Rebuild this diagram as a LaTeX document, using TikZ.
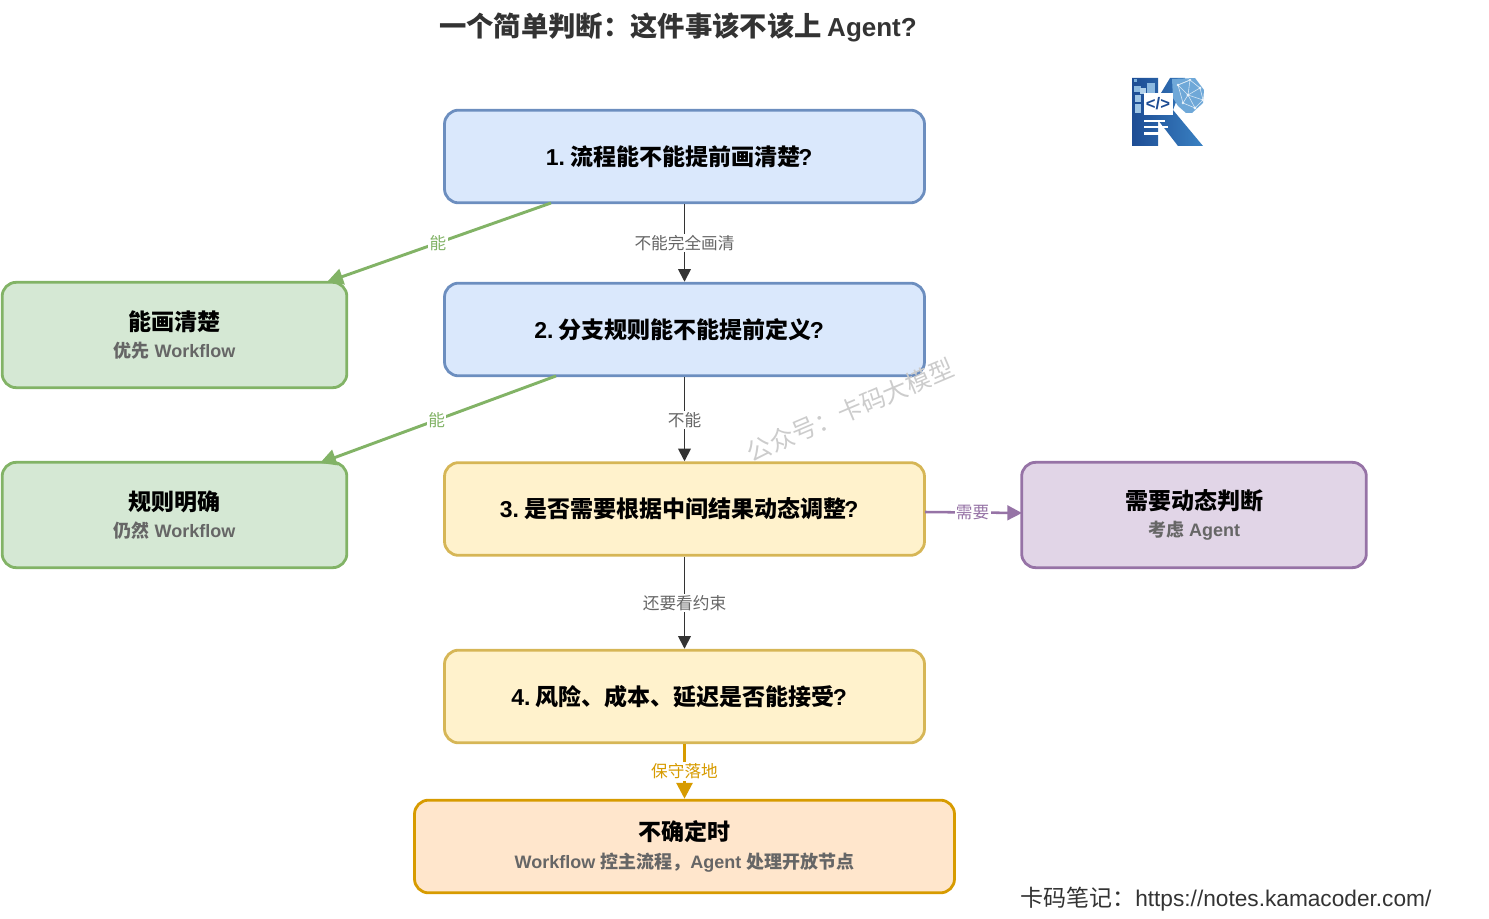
\documentclass[tikz,border=0pt]{standalone}
\usepackage{fontspec}
\setmainfont{Liberation Sans}
\newfontfamily\cj{Noto Sans CJK SC}
\usetikzlibrary{arrows.meta,positioning,calc}
\definecolor{bluef}{HTML}{DAE8FC}\definecolor{blued}{HTML}{6C8EBF}
\definecolor{greenf}{HTML}{D5E8D4}\definecolor{greend}{HTML}{82B366}
\definecolor{yellowf}{HTML}{FFF2CC}\definecolor{yellowd}{HTML}{D6B656}
\definecolor{purplef}{HTML}{E1D5E7}\definecolor{purpled}{HTML}{9673A6}
\definecolor{orangef}{HTML}{FFE6CC}\definecolor{oranged}{HTML}{D79B00}
\definecolor{edgegray}{HTML}{333333}\definecolor{subgray}{HTML}{666666}
\definecolor{logod}{HTML}{1D4C94}\definecolor{logol}{HTML}{3F8BCB}
\newcommand{\fwcolon}{\char"FF1A\relax}
\newcommand{\fwcomma}{\char"FF0C\relax}
\tikzset{
  boxbase/.style={draw,rounded corners=10.5pt,line width=2.1pt,inner sep=0pt,align=center,font=\fontsize{17.25}{24}\selectfont\bfseries},
  wide/.style={boxbase,minimum width=360pt,minimum height=69.5pt},
  side/.style={boxbase,minimum width=258.5pt,minimum height=79pt},
  bluebox/.style={wide,fill=bluef,draw=blued},
  yellowbox/.style={wide,fill=yellowf,draw=yellowd},
  greenbox/.style={side,fill=greenf,draw=greend},
  purplebox/.style={side,fill=purplef,draw=purpled},
  orangebox/.style={boxbase,fill=orangef,draw=oranged,minimum width=405pt,minimum height=69.5pt},
  flow/.style={draw=edgegray,line width=1.3pt,-{Triangle[length=9.5pt,width=9.5pt]}},
  yes/.style={draw=greend,line width=2.2pt,-{Triangle[length=12pt,width=12pt]}},
  need/.style={draw=purpled,line width=1.9pt,-{Triangle[length=11pt,width=11pt]}},
  keep/.style={draw=oranged,line width=2.2pt,-{Triangle[length=12pt,width=12pt]}},
  lab/.style={fill=white,inner sep=1pt,font=\fontsize{12.5}{14}\selectfont\cj},
}
\newcommand{\subl}[1]{\\[-3.5pt]{\fontsize{13.5}{18}\selectfont\color{subgray}#1}}
\newcommand{\stepline}[2]{#1\hspace{4pt}{\cj #2}\kern-1.5pt?\hspace*{8pt}}
\begin{document}
\begin{tikzpicture}[x=0.75pt,y=-0.75pt]
\useasboundingbox (0,0) rectangle (1489,919);
% title
\node[font=\fontsize{20.5}{24}\selectfont\bfseries,text=black!80] (title) at (678,27) {{\cj 一个简单判断\fwcolon 这件事该不该上}\hspace{4pt}{\fontsize{19.5}{24}\selectfont Agent?}};
% boxes
\node[bluebox] (b1) at (684.5,156.5) {\stepline{1.}{流程能不能提前画清楚}};
\node[bluebox] (b2) at (684.5,329.5) {\stepline{2.}{分支规则能不能提前定义}};
\node[yellowbox] (b3) at (684.5,509) {\stepline{3.}{是否需要根据中间结果动态调整}};
\node[yellowbox] (b4) at (684.5,696.5) {\stepline{4.}{风险、成本、延迟是否能接受}};
\node[orangebox] (b5) at (684.5,846.5) {{\cj 不确定时}\subl{Workflow {\cj 控主流程\fwcomma}Agent {\cj 处理开放节点}}};
\node[greenbox] (g1) at (174.5,335) {{\cj 能画清楚}\subl{{\cj 优先} Workflow}};
\node[greenbox] (g2) at (174.5,515) {{\cj 规则明确}\subl{{\cj 仍然} Workflow}};
\node[purplebox] (p1) at (1194,515) {{\cj 需要动态判断}\subl{{\cj 考虑} Agent}};
% connector ends on the box edges
\coordinate (g1from) at (551,203);
\coordinate (g1to) at (327,282);
\coordinate (g2from) at (556,376);
\coordinate (g2to) at (320,463);
\coordinate (p1from) at (925,512);
\coordinate (p1to) at (1022,513);
% connectors
\draw[flow] (b1.south) -- node[lab,text=subgray] (l1) {不能完全画清} (b2.north);
\draw[flow] (b2.south) -- node[lab,text=subgray,pos=0.51] (l2) {不能} (b3.north);
\draw[flow] (b3.south) -- node[lab,text=subgray,pos=0.505] (l3) {还要看约束} (b4.north);
\draw[keep] (b4.south) -- node[lab,text=oranged,pos=0.5] (l4) {保守落地} (b5.north);
\draw[yes] (g1from) -- node[lab,text=greend,pos=0.505] (l5) {能} (g1to);
\draw[yes] (g2from) -- node[lab,text=greend,pos=0.505] (l6) {能} (g2to);
\draw[need] (p1from) -- node[lab,text=purpled,pos=0.49] (l7) {需要} (p1to);
% watermark
\node[rotate=23,text=black!20,font=\fontsize{18.5}{20}\selectfont\cj] (wm) at (850,410) {公众号\fwcolon 卡码大模型};
% footer
\node[anchor=west,inner sep=0pt,text=edgegray,font=\fontsize{17.25}{20}\selectfont] (foot) at (1020,899) {{\cj 卡码笔记\fwcolon}{\fontsize{17}{20}\selectfont https://notes.kamacoder.com/}};
% logo
\shade[left color=logod,right color=logol!85!logod] (1132,78) -- (1158,78) -- (1158,98) -- (1170,78) -- (1185,78) -- (1173,110) -- (1203,146) -- (1178,146) -- (1158,120) -- (1158,146) -- (1132,146) -- cycle;
\fill[white!30!logol] (1134,79) rectangle (1137,82);
\fill[logol!60] (1134,86) rectangle (1141,92);
\fill[logol!60] (1147,83) rectangle (1155,93);
\fill[logol!40] (1140,88) rectangle (1146,94);
\fill[logol!50] (1135,95) rectangle (1141,102);
\fill[logol!50] (1135,104) rectangle (1141,113);
\fill[logol!75] (1172,79) -- (1195,78) -- (1204,90) -- (1203,103) -- (1192,113) -- (1186,113) -- (1178,106) -- (1173,98) -- cycle;
\foreach \a/\b/\c/\d in {1178/85/1190/80,1190/80/1200/88,1178/85/1188/95,1188/95/1200/88,1188/95/1195/108,1183/103/1188/95,1190/80/1188/95,1200/88/1203/100,1203/100/1195/108,1178/85/1183/103,1188/95/1203/100,1183/103/1195/108,1190/80/1178/85}
  {\draw[white!80!logol,line width=0.45pt] (\a,\b) -- (\c,\d);
   \fill[white!90!logol] (\c,\d) circle[radius=1.4];}
\fill[white] (1144,93) rectangle (1173,115);
\node[text=logod,inner sep=0pt,font=\fontsize{12.5}{12}\selectfont\bfseries] (code) at (1158,104) {</>};
\fill[white] (1144,120) rectangle (1165,122.5);
\fill[white] (1144,126) rectangle (1168,128.5);
\fill[white] (1144,132.5) rectangle (1159,135);
\end{tikzpicture}
\end{document}
